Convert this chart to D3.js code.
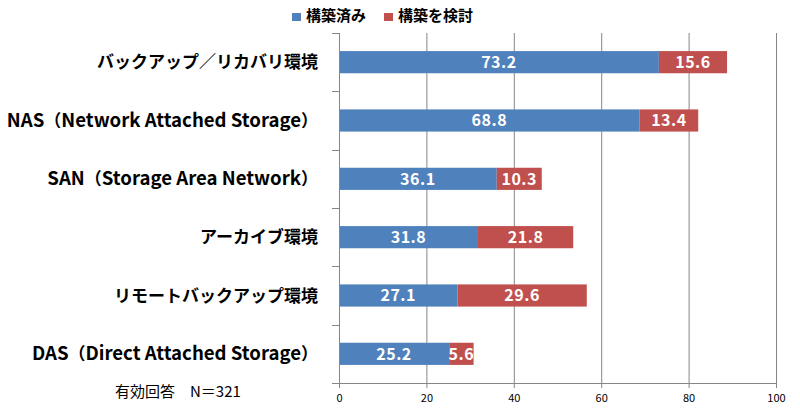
<!DOCTYPE html>
<html><head><meta charset="utf-8">
<script src="https://cdn.jsdelivr.net/npm/d3@7"></script>
<style>body{margin:0;background:#fff;}svg{display:block;}</style>
</head><body>
<svg id="c" width="800" height="411"></svg>
<script>
const categories = ["バックアップ／リカバリ環境","NAS（Network Attached Storage）","SAN（Storage Area Network）","アーカイブ環境","リモートバックアップ環境","DAS（Direct Attached Storage）"];
const built = [73.2, 68.8, 36.1, 31.8, 27.1, 25.2];
const considering = [15.6, 13.4, 10.3, 21.8, 29.6, 5.6];
const seriesNames = ["構築済み","構築を検討"];
const xTicks = [0,20,40,60,80,100];
const note = "有効回答　N＝321";

const colors = ["#4F81BD","#C0504D"];
const font = "'Noto Sans CJK JP','Noto Sans',sans-serif";
const svg = d3.select("#c");
const m = {l:339, r:776, t:33, b:383};
const x = d3.scaleLinear().domain([0,100]).range([m.l, m.r]);
const y = d3.scaleBand().domain(categories).range([m.t, m.b]).paddingInner(0.62).paddingOuter(0.31);
const yb = d3.scaleBand().domain(categories).range([m.t, m.b]);

// gridlines
svg.append("g").selectAll("line").data(xTicks.slice(1)).join("line")
  .attr("x1", d=>x(d)+0.5).attr("x2", d=>x(d)+0.5).attr("y1", m.t).attr("y2", m.b)
  .attr("stroke","#868686").attr("stroke-width",1);

// bars
const rows = categories.map((c,i)=>({c, v:[built[i], considering[i]]}));
rows.forEach(r=>{
  let acc = 0;
  r.v.forEach((v,k)=>{
    const x0 = acc; acc += v;
    svg.append("rect").attr("x", x(x0)).attr("y", y(r.c)).attr("width", x(acc)-x(x0)).attr("height", y.bandwidth()).attr("fill", colors[k]);
    svg.append("text").attr("x", (x(x0)+x(acc))/2).attr("y", y(r.c)+y.bandwidth()/2).attr("dy","0.36em")
      .attr("text-anchor","middle").attr("fill","#fff").attr("font-family",font).attr("font-weight","bold").attr("font-size",16)
      .attr("letter-spacing",0.5)
      .text(v.toFixed(1));
  });
});

// left axis
svg.append("line").attr("x1",m.l+0.5).attr("x2",m.l+0.5).attr("y1",m.t).attr("y2",m.b).attr("stroke","#868686");
const bounds = categories.map(c=>yb(c)).concat([m.b]);
svg.append("g").selectAll("line").data(bounds).join("line")
  .attr("x1",m.l-7).attr("x2",m.l).attr("y1",d=>Math.round(d)+0.5).attr("y2",d=>Math.round(d)+0.5).attr("stroke","#868686");
// bottom axis
const xa = svg.append("g").attr("transform",`translate(0,${m.b})`)
  .call(d3.axisBottom(x).tickValues(xTicks).tickSize(5).tickSizeOuter(0).tickPadding(6));
xa.select(".domain").attr("stroke","#868686");
xa.selectAll(".tick line").attr("stroke","#868686");
xa.selectAll("text").attr("font-family",font).attr("font-size",11).attr("fill","#000");

// category labels (Latin runs slightly larger, as in the original font)
const labels = svg.append("g").selectAll("text").data(categories).join("text")
  .attr("x", 318).attr("y", d=>y(d)+y.bandwidth()/2).attr("dy","0.36em")
  .attr("text-anchor","end").attr("font-family",font).attr("font-weight","bold").attr("font-size",17).attr("fill","#000");
labels.each(function(d){
  const runs = d.match(/[\x20-\x7E]+|[^\x20-\x7E]+/g);
  const t = d3.select(this);
  runs.forEach(s=>{
    t.append("tspan").attr("font-size", /[\x20-\x7E]/.test(s) ? 18.6 : 17).text(s);
  });
});

// legend
const lx = [292, 384];
seriesNames.forEach((n,i)=>{
  svg.append("rect").attr("x",lx[i]).attr("y",13).attr("width",9).attr("height",8).attr("fill",colors[i]);
  svg.append("text").attr("x",lx[i]+14).attr("y",21).attr("font-family",font).attr("font-weight","bold").attr("font-size",15).attr("fill","#000").text(n);
});

// note
svg.append("text").attr("x",115).attr("y",397).attr("font-family",font).attr("font-size",15).attr("fill","#000").text(note);
</script>
</body></html>
